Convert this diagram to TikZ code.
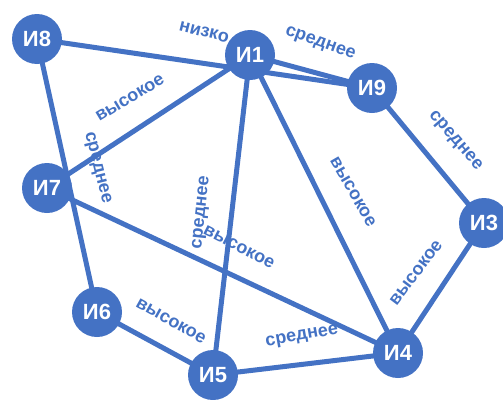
\documentclass[tikz,border=0pt]{standalone}
\usepackage{fontspec}
\setmainfont{Liberation Sans}
\usetikzlibrary{backgrounds}
\definecolor{nblue}{HTML}{4472C4}
\tikzset{
  vert/.style={circle, fill=nblue, minimum size=50pt, inner sep=0pt, text=white, font=\fontsize{22}{22}\selectfont\bfseries},
  lbl/.style={text=nblue, inner sep=1pt, font=\fontsize{18}{18}\selectfont\bfseries},
  edge/.style={draw=nblue, line width=5pt}
}
\begin{document}
\begin{tikzpicture}[x=1pt,y=-1pt]
\useasboundingbox (0,0) rectangle (503,399);
\node[vert] (i8) at (37,39) {И8};
\node[vert] (i1) at (250,55) {И1};
\node[vert] (i9) at (372,88) {И9};
\node[vert] (i3) at (484,223) {И3};
\node[vert] (i4) at (398,353) {И4};
\node[vert] (i5) at (213,375) {И5};
\node[vert] (i6) at (97,312) {И6};
\node[vert] (i7) at (47,188) {И7};
\begin{scope}[on background layer]
\draw[edge] (i8.center) -- (i9.center);
\draw[edge] (i1.center) -- (i9.center);
\draw[edge] (i8.center) -- (i6.center);
\draw[edge] (i7.center) -- (i1.center);
\draw[edge] (i7.center) -- (i4.center);
\draw[edge] (i1.center) -- (i5.center);
\draw[edge] (i1.center) -- (i4.center);
\draw[edge] (i9.center) -- (i3.center);
\draw[edge] (i3.center) -- (i4.center);
\draw[edge] (i4.center) -- (i5.center);
\draw[edge] (i6.center) -- (i5.center);
\end{scope}
\node[lbl, rotate=-14] (l1) at (204,32) {низко};
\node[lbl, rotate=-20] (l2) at (320,44) {среднее};
\node[lbl, rotate=31] (l3) at (130,98) {высокое};
\node[lbl, rotate=-76] (l4) at (97,168) {среднее};
\node[lbl, rotate=84] (l5) at (202,213) {среднее};
\node[lbl, rotate=-27] (l6) at (239,247) {высокое};
\node[lbl, rotate=-60] (l7) at (353,192) {высокое};
\node[lbl, rotate=-49] (l8) at (455,141) {среднее};
\node[lbl, rotate=53] (l9) at (416,273) {высокое};
\node[lbl, rotate=10] (l10) at (302,337) {среднее};
\node[lbl, rotate=-29] (l11) at (171,321) {высокое};
\end{tikzpicture}
\end{document}
